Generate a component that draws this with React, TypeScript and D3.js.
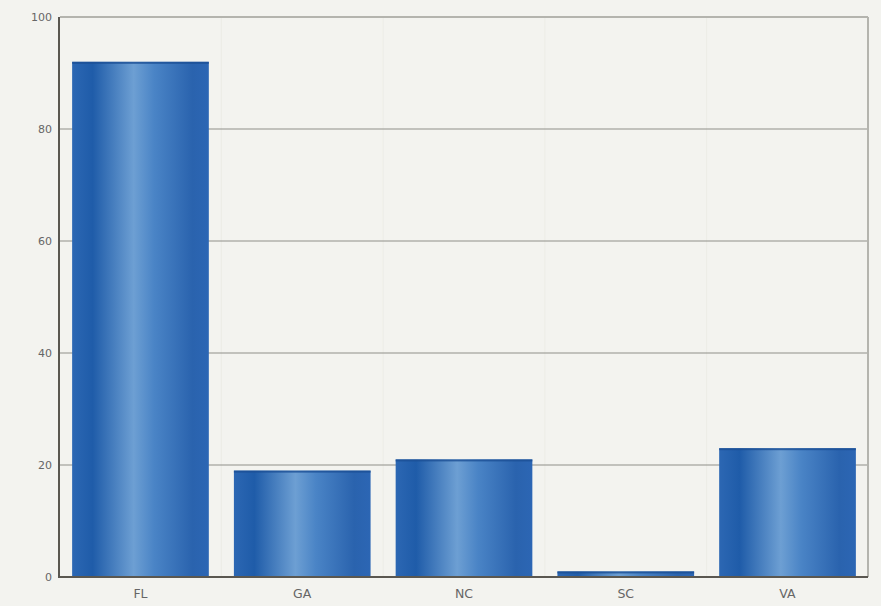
import React from 'react';
import * as d3 from 'd3';

const states = ['FL', 'GA', 'NC', 'SC', 'VA'];
const counts = [92, 19, 21, 1, 23];
const yTicks = [0, 20, 40, 60, 80, 100];

const W = 881;
const H = 606;
const margin = { top: 17, right: 13, bottom: 29, left: 60 };

const App: React.FC = () => {
    const x = d3.scaleBand<string>().domain(states).range([margin.left, W - margin.right]).paddingInner(0.155).paddingOuter(0.075);
    const y = d3.scaleLinear().domain([0, 100]).range([H - margin.bottom, margin.top]);
    const data = states.map((s, i) => ({ state: s, value: counts[i] }));
    const edges = d3.range(1, states.length).map(i => (x(states[i - 1])! + x.bandwidth() + x(states[i])!) / 2);

    return (
        <svg width={W} height={H} style={{ position: 'absolute', left: 0, top: 0, fontFamily: 'DejaVu Sans, sans-serif' }}>
            <defs>
                <linearGradient id="barGrad" x1="0" x2="1" y1="0" y2="0">
                    <stop offset="0" stopColor="#2c67b3" />
                    <stop offset="0.15" stopColor="#1f5ca9" />
                    <stop offset="0.45" stopColor="#6d9fd3" />
                    <stop offset="0.6" stopColor="#4a84c6" />
                    <stop offset="0.88" stopColor="#2a63ae" />
                    <stop offset="1" stopColor="#2c66b4" />
                </linearGradient>
            </defs>
            <rect x={0} y={0} width={W} height={H} fill="#f3f3ef" />
            {edges.map((ex, i) => (
                <line key={'v' + i} x1={ex} x2={ex} y1={margin.top} y2={H - margin.bottom} stroke="#ecece6" strokeWidth={1} />
            ))}
            {yTicks.filter(t => t > 0).map(t => (
                <line key={'g' + t} x1={margin.left} x2={W - margin.right} y1={y(t)} y2={y(t)} stroke={t === 100 ? '#b4b4ae' : '#8f8f8a'} strokeWidth={t === 100 ? 2 : 1.2} />
            ))}
            <line x1={W - margin.right} x2={W - margin.right} y1={margin.top} y2={H - margin.bottom} stroke="#b4b4ae" strokeWidth={2} />
            {data.map(d => (
                <g key={d.state}>
                    <rect x={x(d.state)} y={y(d.value)} width={x.bandwidth()} height={y(0) - y(d.value)} fill="url(#barGrad)" />
                    <rect x={x(d.state)} y={y(d.value)} width={x.bandwidth()} height={2} fill="#1b4f95" opacity={0.8} />
                </g>
            ))}
            <line x1={margin.left - 1} x2={margin.left - 1} y1={margin.top} y2={H - margin.bottom} stroke="#5a5750" strokeWidth={2} />
            <line x1={margin.left - 2} x2={W - margin.right} y1={H - margin.bottom} y2={H - margin.bottom} stroke="#5a5750" strokeWidth={2} />
            {yTicks.map(t => (
                <text key={'t' + t} x={margin.left - 8} y={y(t)} dy="0.35em" textAnchor="end" fontSize={11} fill="#666">{t}</text>
            ))}
            {states.map(s => (
                <text key={'l' + s} x={x(s)! + x.bandwidth() / 2} y={H - margin.bottom + 17} dy="0.35em" textAnchor="middle" fontSize={12.5} fill="#666">{s}</text>
            ))}
        </svg>
    );
};

export default App;
